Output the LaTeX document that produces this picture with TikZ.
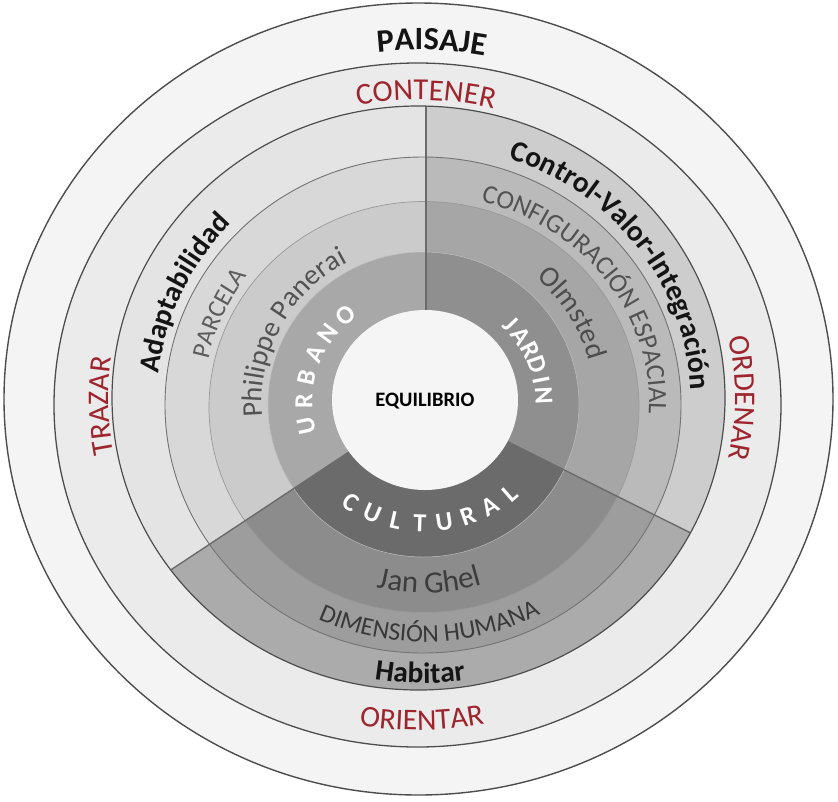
\documentclass[tikz,border=0pt]{standalone}
\usepackage{fontspec}
\newfontfamily\carl{Carlito}
\usetikzlibrary{decorations.text}
\definecolor{tred}{RGB}{158,36,46}
\definecolor{ringO}{HTML}{F4F4F4}
\definecolor{ringM}{HTML}{EBEBEB}
\definecolor{ctr}{HTML}{F5F5F5}
\definecolor{Lfour}{HTML}{E4E4E4}
\definecolor{Lthree}{HTML}{D8D8D8}
\definecolor{Ltwo}{HTML}{CBCBCB}
\definecolor{Lone}{HTML}{A8A8A8}
\definecolor{Rfour}{HTML}{CDCDCD}
\definecolor{Rthree}{HTML}{BABABA}
\definecolor{Rtwo}{HTML}{A6A6A6}
\definecolor{Rone}{HTML}{8F8F8F}
\definecolor{Bfour}{HTML}{ABABAB}
\definecolor{Bthree}{HTML}{9D9D9D}
\definecolor{Btwo}{HTML}{8C8C8C}
\definecolor{Bone}{HTML}{6B6B6B}
\definecolor{lineD}{HTML}{4D4D4D}
\newcommand\fsz[1]{\fontsize{#1}{#1}\selectfont}
\newcommand\cwtext[6]{\path[shift={(#1)},decorate,decoration={text along path,text align=center,text={|#5|#6}}] ({#4+70}:#2 and #3) arc[start angle={#4+70},end angle={#4-70},x radius=#2,y radius=#3];}
\newcommand\ccwtext[6]{\path[shift={(#1)},decorate,decoration={text along path,text align=center,text={|#5|#6}}] ({#4-70}:#2 and #3) arc[start angle={#4-70},end angle={#4+70},x radius=#2,y radius=#3];}
\tikzset{
  outerline/.style={draw=lineD,line width=1.3pt},
  ringline/.style={draw=black!55,line width=0.9pt},
  softline/.style={draw=black!40,line width=0.7pt},
  faintline/.style={draw=black!25,line width=0.5pt},
  divider/.style={draw=black!58,line width=1.4pt},
  lett/.style={font=\carl\bfseries\fsz{26},text=white,inner sep=0pt},
}
\begin{document}
\begin{tikzpicture}[x=1pt,y=1pt]
\useasboundingbox (0,0) rectangle (838,-801);
\fill[white] (0,0) rectangle (838,-801);
\coordinate (C) at (426,-401);
\coordinate (T) at (424,-402);
\coordinate (C1) at (425,-400);
\coordinate (C2) at (423.5,-404.5);
\coordinate (C3) at (424,-407);
\coordinate (C4) at (423,-405);
\coordinate (C5) at (418.5,-398);
\coordinate (C6) at (417.5,-405);
\coordinate (C7) at (418.5,-399);
\filldraw[fill=ringO,outerline,line width=1.4pt] (C7) ellipse[x radius=414.5,y radius=396];
\filldraw[fill=ringM,outerline] (C6) ellipse[x radius=363.5,y radius=342];
\begin{scope}
  \clip (C5) ellipse[x radius=306.5,y radius=292];
  \foreach \a/\b/\ca/\cb/\cc/\cd in {90/213.5/Lfour/Lthree/Ltwo/Lone,213.5/333.5/Bfour/Bthree/Btwo/Bone,333.5/450/Rfour/Rthree/Rtwo/Rone}{
    \begin{scope}
      \pgfmathsetmacro\m{(\a+\b)/2}
      \clip (C) -- +(\a:700) -- +(\m:700) -- +(\b:700) -- cycle;
      \fill[\ca] (C5) ellipse[x radius=306.5,y radius=292];
      \fill[\cb] (C4) ellipse[x radius=258,y radius=248];
      \fill[\cc] (C3) ellipse[x radius=215,y radius=205.5];
      \fill[\cd] (C2) ellipse[x radius=155.5,y radius=152.5];
    \end{scope}
  }
  \draw[ringline] (C4) ellipse[x radius=258,y radius=248];
  \draw[softline] (C3) ellipse[x radius=215,y radius=205.5];
  \draw[faintline] (C2) ellipse[x radius=155.5,y radius=152.5];
  \foreach \a in {90,213.5,333.5} \draw[divider] (C) -- +(\a:700);
\end{scope}
\fill[ctr] (C1) ellipse[x radius=93,y radius=90];
\draw[outerline,line width=1.2pt] (C5) ellipse[x radius=306.5,y radius=292];
% centre
\node[font=\carl\bfseries\fsz{20.5},text=black,inner sep=0pt] (eq) at (425,-401.5) {EQUILIBRIO};
% spaced words
\begin{scope}[shift={(T)}]
  \foreach \ch [count=\i] in {U,R,B,A,N,O}{
    \pgfmathsetmacro\th{192-(\i-1)*12.2}
    \node[lett,rotate=\th-90] (urb\i) at (\th:120 and 115) {\ch};
  }
  \foreach \ch [count=\i] in {J,A,R,D,I,N}{
    \pgfmathsetmacro\th{44-(\i-1)*8.2}
    \node[lett,rotate=\th-90] (jar\i) at (\th:120 and 113) {\ch};
  }
  \foreach \ch [count=\i] in {C,U,L,T,U,R,A,L}{
    \pgfmathsetmacro\th{236+(\i-1)*10.71}
    \node[lett,rotate=\th+90] (cul\i) at (\th:131 and 121) {\ch};
  }
\end{scope}
% inner ring texts
\cwtext{T}{267}{257}{155.5}{\carl\bfseries\fsz{29}\color{black!92}}{Adaptabilidad}
\cwtext{T}{267}{257}{36.5}{\carl\bfseries\fsz{29.5}\color{black!92}}{Control-Valor-Integración}
\ccwtext{T}{292}{281}{269.2}{\carl\bfseries\fsz{29.5}\color{black!92}}{Habitar}
\cwtext{T}{220}{211}{156.6}{\carl\fsz{25.5}\color{black!64}}{PARCELA}
\cwtext{T}{225}{207}{35}{\carl\fsz{26.5}\color{black!68}}{CONFIGURACIÓN ESPACIAL}
\ccwtext{T}{250}{240}{271.4}{\carl\fsz{25.5}\color{black!78}}{DIMENSIÓN HUMANA}
\cwtext{T}{162}{158}{152}{\carl\fsz{28.5}\color{black!68}}{Philippe Panerai}
\cwtext{T}{170}{165}{31}{\carl\fsz{29}\color{black!70}}{Olmsted}
\ccwtext{T}{198}{191}{271.7}{\carl\fsz{31}\color{black!76}}{Jan Ghel}
% outer texts
\cwtext{C7}{365}{349}{87.9}{\carl\bfseries\fsz{32.5}\color{black!92}}{PAISAJE}
\cwtext{C5}{313}{298}{88.6}{\carl\fsz{30.5}\color{tred}}{CONTENER}
\cwtext{C5}{310}{295}{181.4}{\carl\fsz{30}\color{tred}}{TRAZAR}
\cwtext{C5}{316.5}{301}{0}{\carl\fsz{30}\color{tred}}{ORDENAR}
\ccwtext{C5}{349}{332}{270.6}{\carl\fsz{30}\color{tred}}{ORIENTAR}
\end{tikzpicture}
\end{document}
